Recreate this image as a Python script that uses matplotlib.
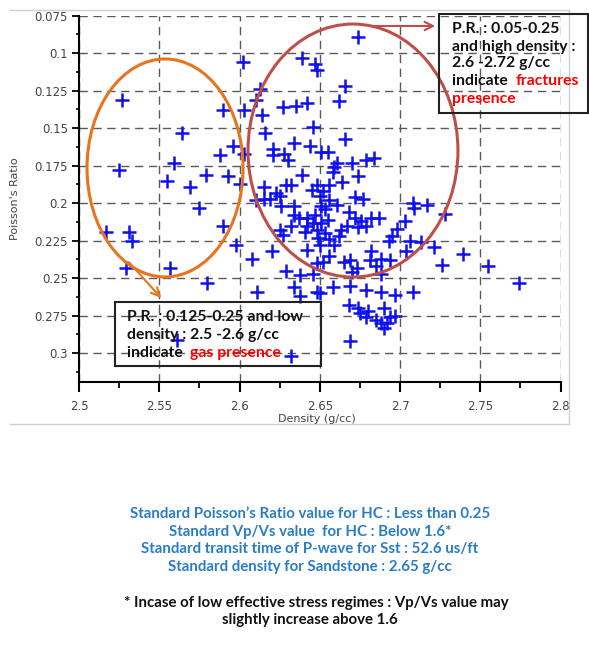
import matplotlib
matplotlib.use('Agg')
import matplotlib.pyplot as plt
from matplotlib.patches import Ellipse, Rectangle, FancyArrowPatch
from matplotlib.lines import Line2D

# ---------------- data ----------------
density = [2.527, 2.525, 2.564, 2.559, 2.555, 2.569, 2.579, 2.593, 2.588, 2.596,
           2.603, 2.590, 2.602, 2.603, 2.613, 2.610, 2.614, 2.616, 2.621, 2.621,
           2.628, 2.630, 2.627, 2.635, 2.634, 2.629, 2.615, 2.600, 2.623, 2.642,
           2.639, 2.647, 2.648, 2.646, 2.674, 2.666, 2.662, 2.666, 2.644, 2.651,
           2.655, 2.661, 2.670, 2.679, 2.684, 2.658, 2.674, 2.639, 2.656, 2.664,
           2.632, 2.645, 2.652, 2.672, 2.677, 2.650, 2.651, 2.668, 2.672, 2.676,
           2.682, 2.687, 2.667, 2.674, 2.679, 2.708, 2.717, 2.709, 2.728, 2.703,
           2.698, 2.695, 2.693, 2.706, 2.713, 2.721, 2.704, 2.739, 2.726, 2.755,
           2.774, 2.682, 2.688, 2.694, 2.681, 2.669, 2.673, 2.670, 2.685, 2.688,
           2.656, 2.652, 2.648, 2.642, 2.629, 2.638, 2.646, 2.634, 2.638, 2.648,
           2.650, 2.658, 2.669, 2.679, 2.688, 2.697, 2.708, 2.668, 2.674, 2.675,
           2.680, 2.679, 2.685, 2.690, 2.694, 2.697, 2.688, 2.692, 2.690, 2.669,
           2.632, 2.517, 2.531, 2.533, 2.529, 2.557, 2.575, 2.590, 2.598, 2.608,
           2.580, 2.611, 2.620, 2.627, 2.632, 2.561, 2.610, 2.615, 2.625, 2.626,
           2.634, 2.619, 2.648, 2.634, 2.625, 2.637, 2.642, 2.642, 2.646, 2.648,
           2.641, 2.647, 2.651, 2.653, 2.659, 2.653, 2.656, 2.650, 2.655, 2.649,
           2.659, 2.663, 2.656, 2.661, 2.662, 2.665]
poisson = [0.131, 0.178, 0.153, 0.173, 0.185, 0.189, 0.181, 0.182, 0.168, 0.162,
           0.167, 0.138, 0.106, 0.138, 0.124, 0.131, 0.141, 0.153, 0.164, 0.168,
           0.167, 0.171, 0.136, 0.135, 0.160, 0.188, 0.189, 0.187, 0.193, 0.133,
           0.103, 0.107, 0.111, 0.149, 0.089, 0.122, 0.132, 0.157, 0.162, 0.166,
           0.166, 0.173, 0.173, 0.171, 0.170, 0.179, 0.182, 0.181, 0.188, 0.186,
           0.188, 0.191, 0.192, 0.196, 0.197, 0.195, 0.202, 0.206, 0.210, 0.212,
           0.210, 0.210, 0.215, 0.216, 0.215, 0.200, 0.201, 0.203, 0.207, 0.212,
           0.217, 0.222, 0.225, 0.225, 0.226, 0.229, 0.232, 0.234, 0.241, 0.242,
           0.253, 0.232, 0.237, 0.238, 0.238, 0.238, 0.243, 0.246, 0.242, 0.247,
           0.235, 0.239, 0.240, 0.231, 0.245, 0.248, 0.247, 0.256, 0.262, 0.259,
           0.260, 0.256, 0.255, 0.258, 0.259, 0.261, 0.259, 0.268, 0.270, 0.273,
           0.272, 0.276, 0.278, 0.270, 0.276, 0.275, 0.280, 0.280, 0.283, 0.292,
           0.302, 0.219, 0.219, 0.225, 0.243, 0.243, 0.203, 0.215, 0.228, 0.237,
           0.253, 0.259, 0.232, 0.221, 0.215, 0.291, 0.198, 0.197, 0.195, 0.202,
           0.202, 0.197, 0.188, 0.208, 0.218, 0.210, 0.210, 0.215, 0.213, 0.218,
           0.219, 0.208, 0.213, 0.220, 0.176, 0.204, 0.224, 0.228, 0.211, 0.223,
           0.228, 0.218, 0.198, 0.201, 0.222, 0.239]

x_ticks = [2.5, 2.55, 2.6, 2.65, 2.7, 2.75, 2.8]
x_tick_labels = ['2.5', '2.55', '2.6', '2.65', '2.7', '2.75', '2.8']
y_ticks = [0.075, 0.1, 0.125, 0.15, 0.175, 0.2, 0.225, 0.25, 0.275, 0.3]
y_tick_labels = ['0.075', '0.1', '0.125', '0.15', '0.175', '0.2', '0.225',
                 '0.25', '0.275', '0.3']

# ---------------- figure ----------------
W, H = 589, 652
fig = plt.figure(figsize=(W / 100, H / 100), dpi=100)


def px(x, y):
    return (x / W, 1 - y / H)


ax_l, ax_t, ax_r, ax_b = 79, 15.7, 560.5, 382.3
ax = fig.add_axes([ax_l / W, 1 - ax_b / H, (ax_r - ax_l) / W, (ax_b - ax_t) / H])

ax.plot(density, poisson, linestyle='none', marker='+', color='#1010EE',
        markersize=10, markeredgewidth=1.8, zorder=3)

ax.set_xlim(2.5, 2.8)
ax.set_ylim(0.3194, 0.075)
ax.set_xticks(x_ticks)
ax.set_xticklabels(x_tick_labels)
ax.set_yticks(y_ticks)
ax.set_yticklabels(y_tick_labels)
ax.set_xticks([2.525, 2.575, 2.625, 2.675, 2.725, 2.775], minor=True)
ax.set_yticks([0.0875, 0.1125, 0.1375, 0.1625, 0.1875, 0.2125, 0.2375,
               0.2625, 0.2875, 0.3125], minor=True)

ax.grid(True, which='major', linestyle=(0, (6, 4)), color='#5a5a5a',
        linewidth=1.0, zorder=1)
ax.set_axisbelow(True)
for s in ['top', 'right']:
    ax.spines[s].set_visible(False)
for s in ['left', 'bottom']:
    ax.spines[s].set_linewidth(1.5)
    ax.spines[s].set_color('black')

ax.tick_params(axis='x', which='major', direction='out', length=7, width=1.5,
               pad=6, labelsize=8.5, labelcolor='#444444')
ax.tick_params(axis='x', which='minor', direction='out', length=4.5, width=1.3)
ax.tick_params(axis='y', which='major', direction='out', length=5, width=1.3,
               pad=3, labelsize=8.5, labelcolor='#444444')
ax.tick_params(axis='y', which='minor', direction='out', length=2.5, width=1.2)

# ellipses (data coordinates)
ax.add_patch(Ellipse((2.5536, 0.1765), 0.0972, 0.1453, fill=False,
                     edgecolor='#E8741E', linewidth=2.2, zorder=4))
ax.add_patch(Ellipse((2.6707, 0.1649), 0.1308, 0.1687, fill=False,
                     edgecolor='#BD4F4B', linewidth=2.2, zorder=4))

# axis labels
fig.text(*px(15, 199), "Poisson's Ratio", rotation=90, ha='center', va='center',
         fontsize=8, color='#444444')
fig.text(*px(317, 419), 'Density (g/cc)', ha='center', va='center',
         fontsize=8, color='#444444')

# frame lines
fc = '#cfcfcf'
for (x0, y0, x1, y1) in [(10, 10, 569, 10), (569, 10, 569, 424), (10, 424, 569, 424)]:
    a, b = px(x0, y0)
    c, d = px(x1, y1)
    fig.add_artist(Line2D([a, c], [b, d], color=fc, linewidth=1.0,
                          transform=fig.transFigure))

# annotation boxes
afont = dict(family='Lato', weight='bold', fontsize=11.3)
renderer = fig.canvas.get_renderer()


def box(x0, y0, x1, y1):
    a, b = px(x0, y1)
    fig.add_artist(Rectangle((a, b), (x1 - x0) / W, (y1 - y0) / H, fill=False,
                             edgecolor='#222222', linewidth=1.5,
                             transform=fig.transFigure, zorder=6))


def mixed(x, y, black, red):
    t = fig.text(*px(x, y), black, ha='left', va='center', color='#111111', **afont)
    bb = t.get_window_extent(renderer)
    fig.text(bb.x1 / W, 1 - y / H, red, ha='left', va='center',
             color='#FF0000', **afont)


box(439, 14, 587.5, 113)
lines1 = [(29, 'P.R. : 0.05-0.25'), (47, 'and high density :'),
          (63, '2.6 -2.72 g/cc')]
for y, t in lines1:
    fig.text(*px(452, y), t, ha='left', va='center', color='#111111', **afont)
mixed(452, 81, 'indicate  ', 'fractures')
fig.text(*px(452, 99), 'presence', ha='left', va='center', color='#FF0000', **afont)

box(115, 301.7, 321, 365.7)
lines2 = [(316.7, 'P.R. : 0.125-0.25 and low'), (335, 'density : 2.5 -2.6 g/cc')]
for y, t in lines2:
    fig.text(*px(126.7, y), t, ha='left', va='center', color='#111111', **afont)
mixed(126.7, 352.7, 'indicate  ', 'gas presence')

# arrows
fig.add_artist(FancyArrowPatch(px(370, 26), px(438, 26), transform=fig.transFigure,
                               arrowstyle='->,head_length=6,head_width=3',
                               color='#BD4F4B', linewidth=1.5, zorder=6))
fig.add_artist(FancyArrowPatch(px(127, 260), px(163, 300), transform=fig.transFigure,
                               arrowstyle='->,head_length=6,head_width=3',
                               color='#E8741E', linewidth=1.5, zorder=6))

# bottom notes
bfont = dict(family='Lato', weight='bold', fontsize=10.8)
blue = '#2A7CC7'
notes_blue = ["Standard Poisson\u2019s Ratio value for HC : Less than 0.25",
              "Standard Vp/Vs value  for HC : Below 1.6*",
              "Standard transit time of P-wave for Sst : 52.6 us/ft",
              "Standard density for Sandstone : 2.65 g/cc"]
for y, t in zip([514, 531.7, 549, 566.7], notes_blue):
    fig.text(*px(310, y), t, ha='center', va='center', color=blue, **bfont)
fig.text(*px(316.5, 603.3), "* Incase of low effective stress regimes : Vp/Vs value may",
         ha='center', va='center', color='#111111', **bfont)
fig.text(*px(310, 620), "slightly increase above 1.6", ha='center', va='center',
         color='#111111', **bfont)

fig.savefig('out.png', dpi=100)
